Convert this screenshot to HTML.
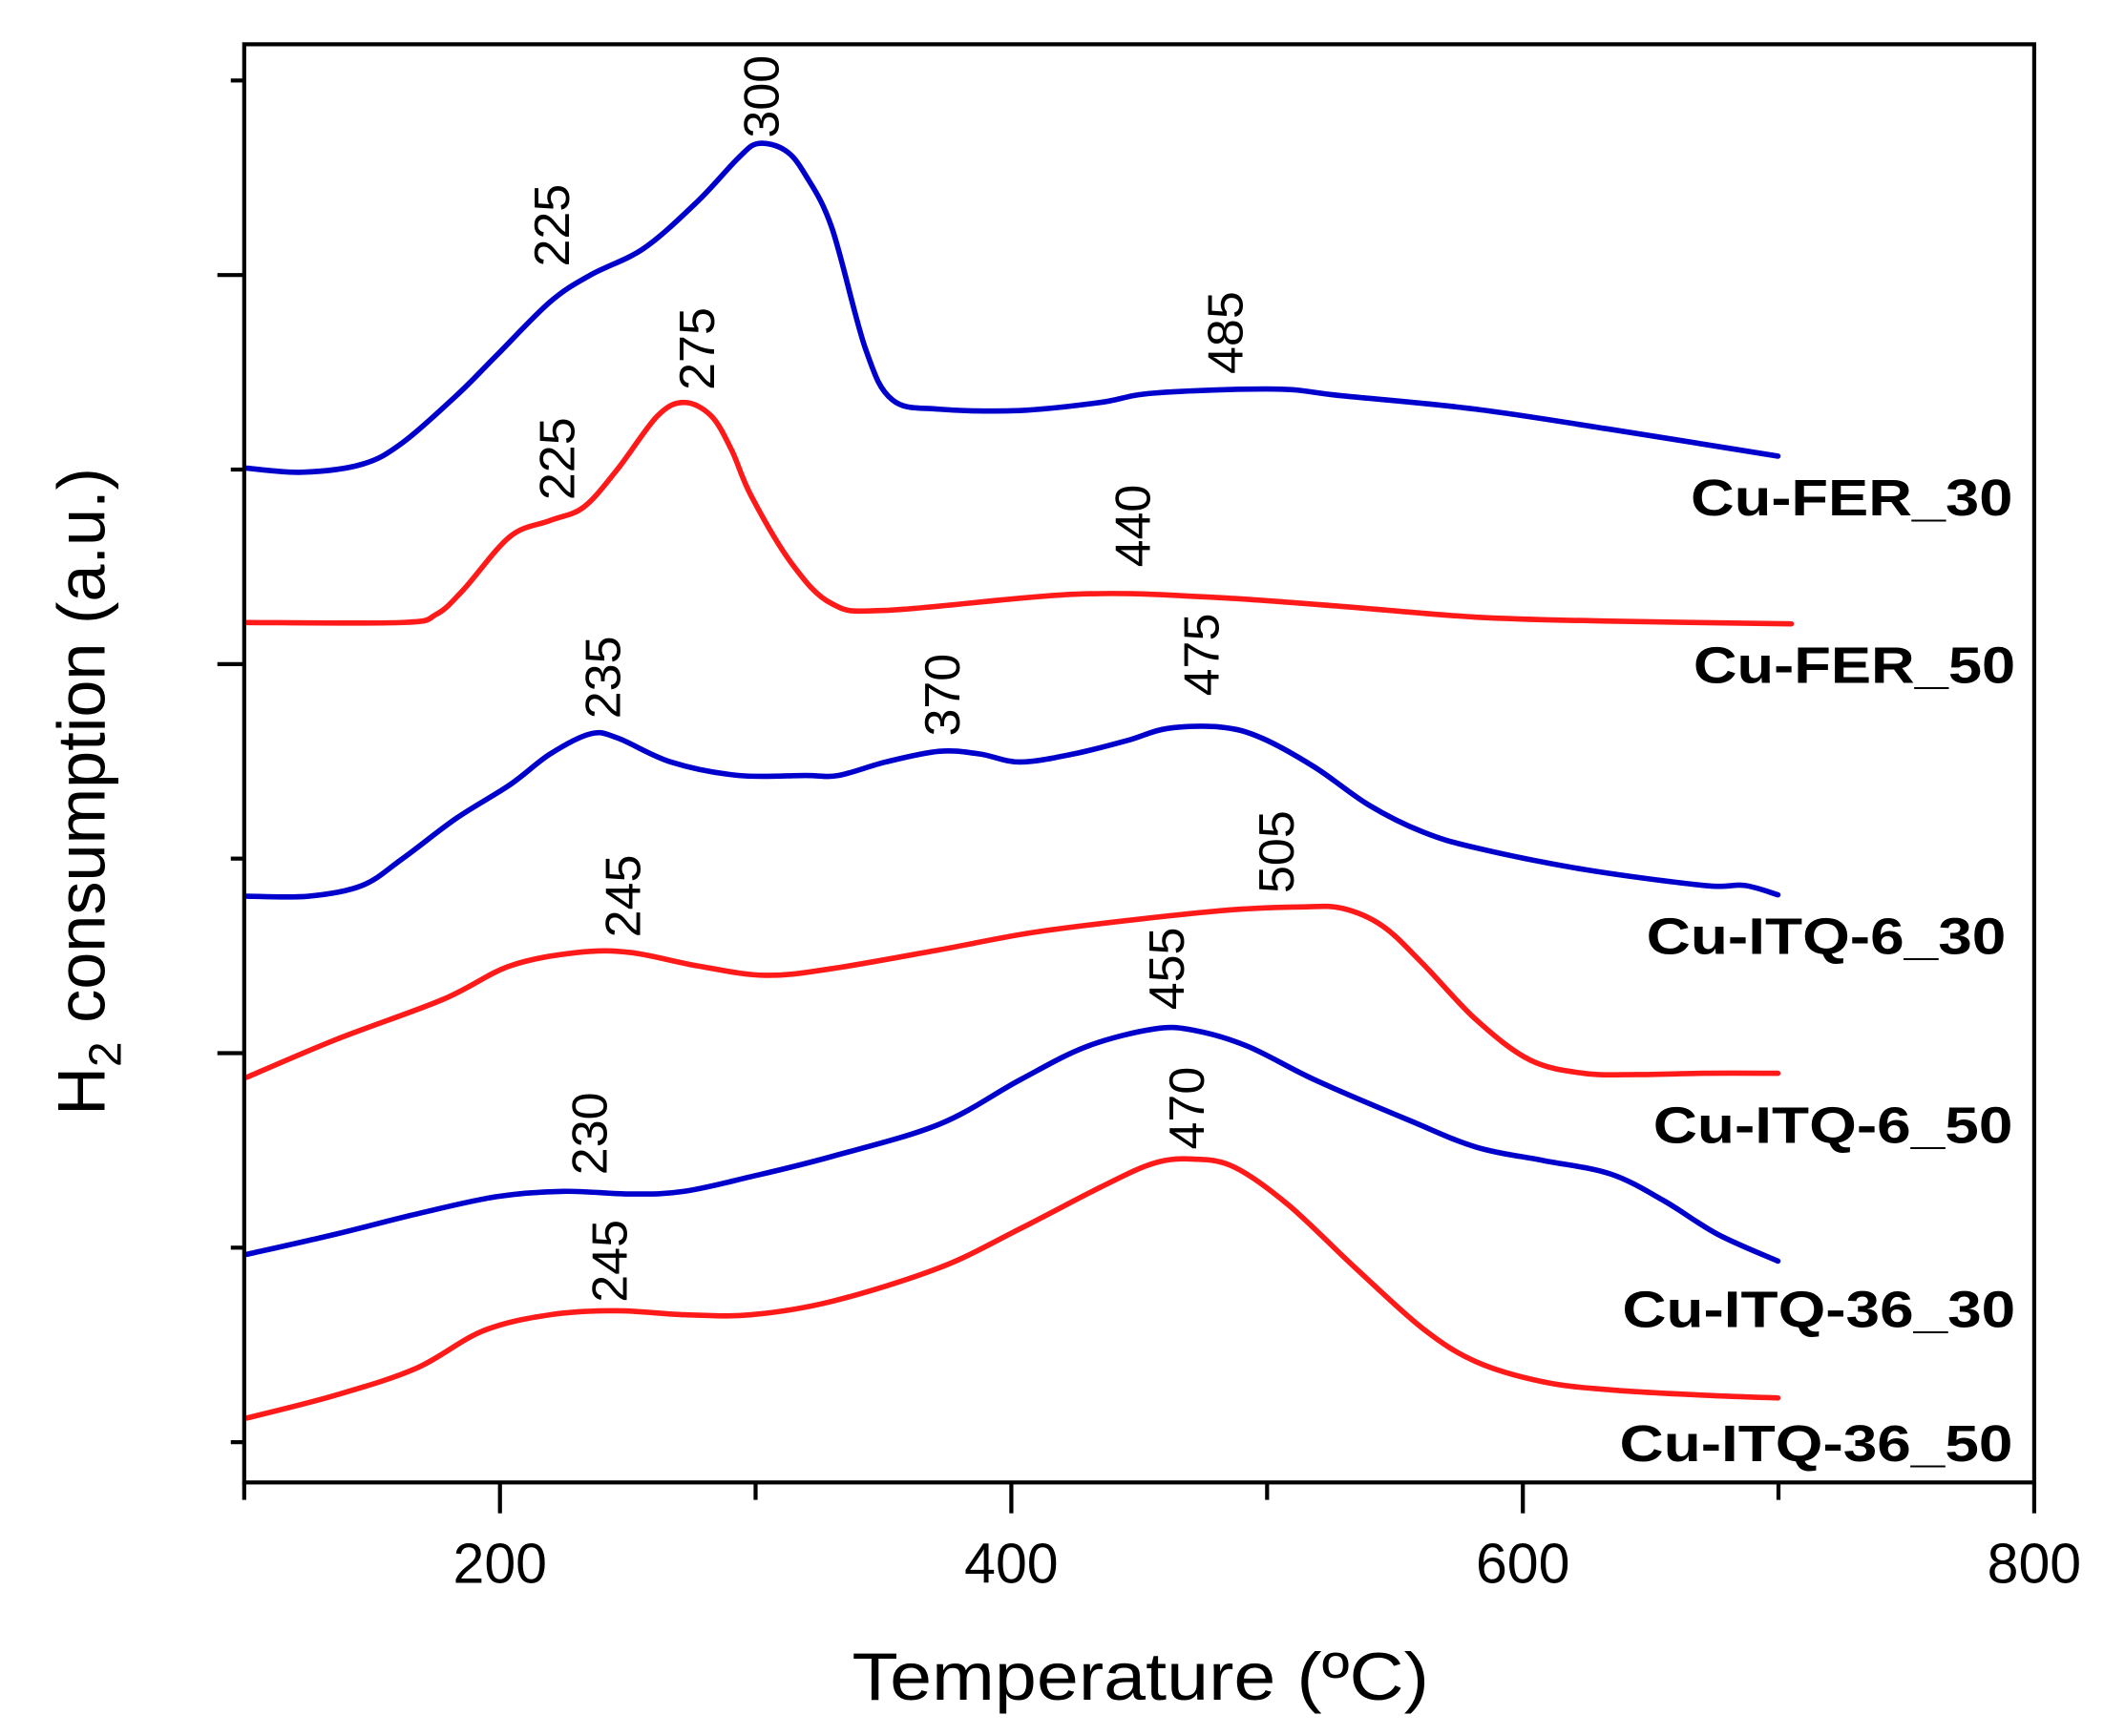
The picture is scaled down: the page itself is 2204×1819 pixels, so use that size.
<!DOCTYPE html>
<html><head><meta charset="utf-8"><style>html,body{margin:0;padding:0;background:#fff}svg{display:block}</style></head>
<body>
<svg id="s" width="2204" height="1819" viewBox="0 0 1568 1294" preserveAspectRatio="none" xmlns="http://www.w3.org/2000/svg" font-family="Liberation Sans, sans-serif">
<rect width="1568" height="1294" fill="#fff"/>
<g id="curves" fill="none" stroke-width="4" stroke-linejoin="round" stroke-linecap="round">
<polyline stroke="#0000cc" points="184,349 225,352 270,346 300,330 340,295 370,265 410,225 440,205 480,185 520,150 550,118 565,107 585,112 600,130 620,170 645,260 665,298 700,305 760,306 820,300 860,293 950,290 1000,295 1100,305 1200,320 1325,340"/>
<polyline stroke="#ff1a1a" points="184,464 300,464 325,458 345,440 380,400 410,388 435,378 460,350 490,310 510,300 530,310 545,335 560,370 590,420 620,450 660,455 800,443 900,445 1000,452 1100,460 1200,463 1335,465"/>
<polyline stroke="#0000cc" points="184,668 230,668 270,660 300,640 340,610 380,585 410,562 440,547 460,550 500,568 550,578 600,578 625,578 660,568 700,560 730,562 760,568 800,562 840,552 870,543 910,542 940,550 980,572 1020,600 1060,620 1100,632 1180,648 1270,660 1300,660 1325,667"/>
<polyline stroke="#ff1a1a" points="184,803 250,775 330,745 380,720 430,710 470,710 520,720 570,727 620,722 700,708 770,695 850,685 920,678 970,676 1000,677 1030,690 1060,718 1100,760 1140,790 1180,800 1220,801 1270,800 1325,800"/>
<polyline stroke="#0000cc" points="184,935 250,920 310,905 370,892 420,888 470,890 510,888 560,877 620,862 700,838 760,805 810,780 860,767 890,768 930,780 980,805 1050,835 1100,855 1150,865 1200,875 1240,895 1280,920 1325,940"/>
<polyline stroke="#ff1a1a" points="184,1057 250,1040 310,1020 360,992 410,980 460,977 510,980 560,980 620,970 700,945 760,916 820,885 860,867 890,864 920,870 960,898 1010,945 1060,990 1100,1015 1150,1030 1200,1036 1270,1040 1325,1042"/>
</g>
<g stroke="#000" stroke-width="3" fill="none">
<rect x="182" y="33" width="1334" height="1072"/>
<line x1="182" y1="60" x2="172" y2="60"/><line x1="182" y1="205" x2="162" y2="205"/>
<line x1="182" y1="350" x2="172" y2="350"/><line x1="182" y1="495" x2="162" y2="495"/>
<line x1="182" y1="640" x2="172" y2="640"/><line x1="182" y1="785" x2="162" y2="785"/>
<line x1="182" y1="930" x2="172" y2="930"/><line x1="182" y1="1075" x2="172" y2="1075"/>
<line x1="182" y1="1105" x2="182" y2="1118"/><line x1="372.6" y1="1105" x2="372.6" y2="1128"/>
<line x1="563.1" y1="1105" x2="563.1" y2="1118"/><line x1="753.7" y1="1105" x2="753.7" y2="1128"/>
<line x1="944.3" y1="1105" x2="944.3" y2="1118"/><line x1="1134.9" y1="1105" x2="1134.9" y2="1128"/>
<line x1="1325.4" y1="1105" x2="1325.4" y2="1118"/><line x1="1516" y1="1105" x2="1516" y2="1128"/>
</g>
<g font-size="42" text-anchor="middle" fill="#000">
<text x="372.6" y="1180">200</text><text x="753.7" y="1180">400</text>
<text x="1134.9" y="1180">600</text><text x="1516" y="1180">800</text>
</g>
<text x="850" y="1267" font-size="50" text-anchor="middle" textLength="430" lengthAdjust="spacingAndGlyphs">Temperature (ºC)</text>
<text transform="translate(78,590) rotate(-90)" font-size="50" text-anchor="middle">H<tspan font-size="34" dy="12">2</tspan><tspan dy="-12"> consumption (a.u.)</tspan></text>
<g font-size="37" text-anchor="middle" dominant-baseline="central" fill="#000">
<text transform="translate(568,72) rotate(-90)">300</text>
<text transform="translate(412,168) rotate(-90)">225</text>
<text transform="translate(520,260) rotate(-90)">275</text>
<text transform="translate(416,342) rotate(-90)">225</text>
<text transform="translate(845,392) rotate(-90)">440</text>
<text transform="translate(914,248) rotate(-90)">485</text>
<text transform="translate(450,505) rotate(-90)">235</text>
<text transform="translate(703,518) rotate(-90)">370</text>
<text transform="translate(896,488) rotate(-90)">475</text>
<text transform="translate(465,668) rotate(-90)">245</text>
<text transform="translate(952,635) rotate(-90)">505</text>
<text transform="translate(870,722) rotate(-90)">455</text>
<text transform="translate(440,845) rotate(-90)">230</text>
<text transform="translate(885,826) rotate(-90)">470</text>
<text transform="translate(455,940) rotate(-90)">245</text>
</g>
<g font-size="38" font-weight="bold" text-anchor="end" fill="#000">
<text x="1500" y="384" textLength="240" lengthAdjust="spacingAndGlyphs">Cu-FER_30</text>
<text x="1502" y="509" textLength="240" lengthAdjust="spacingAndGlyphs">Cu-FER_50</text>
<text x="1495" y="711" textLength="268" lengthAdjust="spacingAndGlyphs">Cu-ITQ-6_30</text>
<text x="1500" y="852" textLength="268" lengthAdjust="spacingAndGlyphs">Cu-ITQ-6_50</text>
<text x="1502" y="989" textLength="293" lengthAdjust="spacingAndGlyphs">Cu-ITQ-36_30</text>
<text x="1500" y="1089" textLength="293" lengthAdjust="spacingAndGlyphs">Cu-ITQ-36_50</text>
</g>
</svg>
<script>
(function(){
var NS="http://www.w3.org/2000/svg";
var pls=document.querySelectorAll("#curves polyline");
for(var i=0;i<pls.length;i++){
 var pl=pls[i];
 var p=pl.getAttribute("points").trim().split(/\s+/).map(function(s){var a=s.split(",");return [+a[0],+a[1]];});
 var d="M"+p[0][0]+","+p[0][1];
 for(var k=0;k<p.length-1;k++){
  var p0=p[k-1]||p[k],p1=p[k],p2=p[k+1],p3=p[k+2]||p2;
  var c1x=p1[0]+(p2[0]-p0[0])/6,c1y=p1[1]+(p2[1]-p0[1])/6;
  var c2x=p2[0]-(p3[0]-p1[0])/6,c2y=p2[1]-(p3[1]-p1[1])/6;
  d+=" C"+c1x.toFixed(1)+","+c1y.toFixed(1)+" "+c2x.toFixed(1)+","+c2y.toFixed(1)+" "+p2[0]+","+p2[1];
 }
 var path=document.createElementNS(NS,"path");
 path.setAttribute("d",d);
 path.setAttribute("stroke",pl.getAttribute("stroke"));
 pl.parentNode.replaceChild(path,pl);
}
})();
</script>
</body></html>
